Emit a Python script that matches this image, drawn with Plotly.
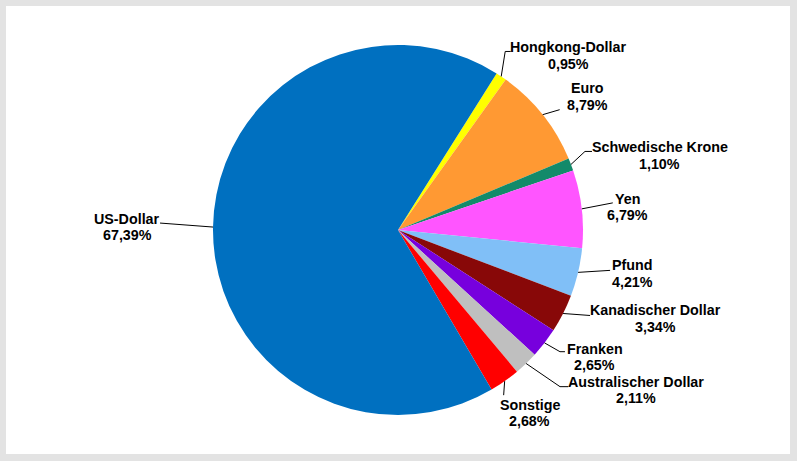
import math
import plotly.graph_objects as go

# ---- data ----
currencies = ["Hongkong-Dollar", "Euro", "Schwedische Krone", "Yen", "Pfund",
              "Kanadischer Dollar", "Franken", "Australischer Dollar", "Sonstige", "US-Dollar"]
shares = [0.95, 8.79, 1.10, 6.79, 4.21, 3.34, 2.65, 2.11, 2.68, 67.39]
colors = ["#FFFF00", "#FF9933", "#138A6A", "#FF55FF", "#80BFF7",
          "#880808", "#7700DD", "#BFBFBF", "#FF0000", "#0070C0"]

# ---- layout geometry (pixels) ----
W, H = 797, 461
CX, CY, R = 398, 230, 185
ROT = 32.2
LINE_GAP = 16.5

# label offsets (px) relative to leader start on pie edge; leader knee points
label_off = [(67, -21), (45, -18), (89, -9), (46, -2), (54, 1),
             (92, 5), (50, 14), (110, 26.5), (25, 32), (-86, 0)]
leader_pts = [[(4, -25), (9.5, -25)], [(17, -5)], [(14, -13), (21, -13)], [(31, -6)], [(32, -2)],
              [(27, 2)], [(15.4, 8.8), (20.4, 8.8)], [(33.9, 23.2), (42.2, 23.2)], [(-1, 14)], [(-53, -4)]]

def px(x):
    return x / W

def py(y):
    return (H - y) / H

fig = go.Figure()
fig.add_trace(go.Pie(
    labels=currencies, values=shares, sort=False, direction="clockwise",
    rotation=ROT, marker=dict(colors=colors, line=dict(width=0)),
    textinfo="none", hoverinfo="label+percent", showlegend=False,
    domain=dict(x=[px(CX - R), px(CX + R)], y=[py(CY + R), py(CY - R)]),
))

font = dict(family="Liberation Sans, Arial", size=14.3, color="black", weight="bold")
total = sum(shares)
cum = 0.0
shapes = [dict(type="rect", xref="paper", yref="paper", x0=px(6), x1=px(790), y0=py(454), y1=py(6),
               fillcolor="white", line=dict(width=0), layer="below")]
annotations = []
for name, v, off, pts in zip(currencies, shares, label_off, leader_pts):
    mid = ROT + (cum + v / 2) / total * 360
    cum += v
    a = math.radians(mid)
    ex = CX + R * math.sin(a)
    ey = CY - R * math.cos(a)
    path = f"M {px(ex)} {py(ey)}"
    for dx, dy in pts:
        path += f" L {px(ex + dx)} {py(ey + dy)}"
    shapes.append(dict(type="path", xref="paper", yref="paper", path=path,
                       line=dict(color="#000000", width=1), layer="above"))
    lx, ly = ex + off[0], ey + off[1]
    pct = f"{v:.2f}".replace(".", ",") + "%"
    for t, yy in ((name, ly - LINE_GAP / 2), (pct, ly + LINE_GAP / 2)):
        annotations.append(dict(x=px(lx), y=py(yy), xref="paper", yref="paper",
                                text=t, showarrow=False, xanchor="center", yanchor="middle",
                                font=font))

fig.update_layout(
    width=W, height=H, margin=dict(l=0, r=0, t=0, b=0),
    paper_bgcolor="#E3E3E3", plot_bgcolor="white",
    shapes=shapes, annotations=annotations,
)
fig.write_html("out.html", config={"displayModeBar": False},
               post_script="document.body.style.margin='0px';")
